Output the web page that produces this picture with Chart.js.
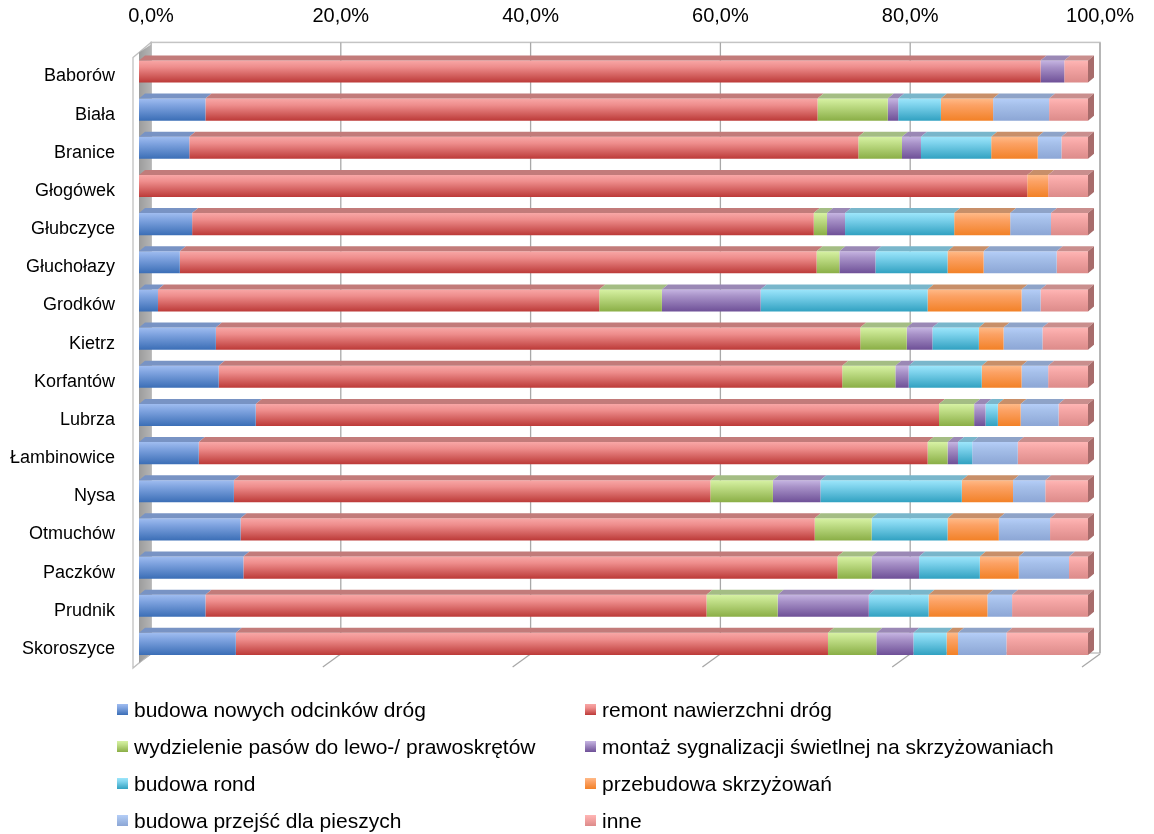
<!DOCTYPE html>
<html lang="pl">
<head>
<meta charset="utf-8">
<title>Rodzaje inwestycji drogowych w gminach</title>
<script src="https://cdn.jsdelivr.net/npm/chart.js@4.4.1/dist/chart.umd.min.js"></script>
<style>
  html, body { margin: 0; padding: 0; background: #ffffff; }
  #wrap { position: relative; width: 1154px; height: 834px; overflow: hidden; }
  #chart { position: absolute; left: 0; top: 0; }
  #legend { position: absolute; left: 0; top: 0; width: 1154px; height: 834px; pointer-events: none;
            font-family: "Liberation Sans", Arial, sans-serif; font-size: 21px; color: #000; }
  .item { position: absolute; height: 26px; line-height: 26px; white-space: nowrap; }
  .box { position: absolute; left: 0; top: 7px; width: 11px; height: 11px; }
  .txt { position: absolute; left: 17px; top: 0; }
</style>
</head>
<body>
<div id="wrap">
  <canvas id="chart" width="1154" height="834"></canvas>
  <div id="legend"></div>
</div>
<script>
// Gminy (categories, top to bottom)
const categories = ['Baborów', 'Biała', 'Branice', 'Głogówek', 'Głubczyce', 'Głuchołazy', 'Grodków', 'Kietrz',
  'Korfantów', 'Lubrza', 'Łambinowice', 'Nysa', 'Otmuchów', 'Paczków', 'Prudnik', 'Skoroszyce'];

// Share of each investment type per gmina (%)
const budowaNowych = [0, 7.0, 5.3, 0, 5.6, 4.3, 2.0, 8.1, 8.4, 12.3, 6.3, 10.0, 10.7, 11.0, 7.0, 10.2];
const remontNawierzchni = [95.0, 64.5, 70.5, 93.6, 65.5, 67.1, 46.5, 67.9, 65.7, 72.0, 76.8, 50.2, 60.5, 62.6, 52.8, 62.4];
const wydzieleniePasow = [0, 7.4, 4.6, 0, 1.4, 2.4, 6.6, 4.9, 5.6, 3.7, 2.1, 6.6, 6.0, 3.6, 7.5, 5.1];
const sygnalizacja = [2.5, 1.1, 2.0, 0, 1.9, 3.8, 10.4, 2.7, 1.4, 1.2, 1.1, 5.0, 0, 5.0, 9.6, 3.9];
const budowaRond = [0, 4.5, 7.4, 0, 11.5, 7.6, 17.6, 4.9, 7.7, 1.3, 1.5, 14.9, 8.0, 6.4, 6.3, 3.5];
const przebudowaSkrzyzowan = [0, 5.5, 4.9, 2.2, 5.9, 3.8, 9.9, 2.6, 4.2, 2.4, 0, 5.4, 5.4, 4.1, 6.2, 1.2];
const przejsciaPiesi = [0, 5.9, 2.5, 0, 4.3, 7.7, 2.0, 4.1, 2.8, 4.0, 4.8, 3.4, 5.4, 5.3, 2.6, 5.1];
const inne = [2.5, 4.1, 2.8, 4.2, 3.9, 3.3, 5.0, 4.8, 4.2, 3.1, 7.4, 4.5, 4.0, 2.0, 8.0, 8.6];

// Axis ticks (%)
const xTicks = [0, 20, 40, 60, 80, 100];

const seriesLabels = ['budowa nowych odcinków dróg', 'remont nawierzchni dróg',
  'wydzielenie pasów do lewo-/ prawoskrętów', 'montaż sygnalizacji świetlnej na skrzyżowaniach',
  'budowa rond', 'przebudowa skrzyżowań', 'budowa przejść dla pieszych', 'inne'];
const seriesData = [budowaNowych, remontNawierzchni, wydzieleniePasow, sygnalizacja,
  budowaRond, przebudowaSkrzyzowan, przejsciaPiesi, inne];

// [top, middle, bottom, top face, side face]
const palette = [
  ['#a0bdf0', '#80a4e0', '#3b6eb6', '#7893c4', '#4d6f9f'],
  ['#f8a7a6', '#ee8d8c', '#bc3a38', '#c27b7a', '#9c5150'],
  ['#d7f2a4', '#c0de87', '#8aae46', '#a4bd84', '#76903f'],
  ['#c6b5e2', '#a892c8', '#6e5097', '#9a88b5', '#5f4a80'],
  ['#9de6fb', '#7dd2ec', '#31a1c1', '#79b6cb', '#2f7f98'],
  ['#ffba88', '#fca265', '#f28127', '#c88f69', '#b66a2e'],
  ['#b5cef8', '#a6c0ea', '#8ca6d5', '#8ea3c8', '#6b80a6'],
  ['#ffb6b5', '#f5a6a5', '#dc8b8a', '#c98e8d', '#a86c6b']
];

// 3D geometry: bar depth and back-wall depth (px)
const BAR_DX = 6, BAR_DY = 5;
const WALL_DX = 12, WALL_DY = 10;
const BAR_FRACTION = 0.58;

function barGradient(ctx, idx) {
  const chart = ctx.chart;
  const ys = chart.scales && chart.scales.y;
  const p = palette[idx];
  if (!ys || ctx.type !== 'data') return p[1];
  const band = (ys.bottom - ys.top) / categories.length;
  const h = band * BAR_FRACTION;
  const yc = ys.getPixelForValue(ctx.dataIndex);
  if (!isFinite(yc) || !isFinite(h) || h <= 0) return p[1];
  const g = chart.ctx.createLinearGradient(0, yc - h / 2, 0, yc + h / 2);
  g.addColorStop(0, p[0]);
  g.addColorStop(0.3, p[1]);
  g.addColorStop(1, p[2]);
  return g;
}

const datasets = seriesData.map((data, i) => ({
  label: seriesLabels[i],
  data: data,
  backgroundColor: (ctx) => barGradient(ctx, i),
  borderWidth: 0,
  categoryPercentage: 1,
  barPercentage: BAR_FRACTION
}));

// Back wall, gridlines and left wall drawn behind the bars
const wallsPlugin = {
  id: 'walls',
  beforeDatasetsDraw(chart) {
    const { ctx, chartArea: a, scales: { x } } = chart;
    ctx.save();
    const bl = a.left + WALL_DX, bt = a.top - WALL_DY, br = a.right + WALL_DX, bb = a.bottom - WALL_DY;
    // back wall frame
    ctx.strokeStyle = '#c4c4c4';
    ctx.lineWidth = 1.5;
    ctx.strokeRect(bl, bt, br - bl, bb - bt);
    // gridlines on the back wall + their floor continuations
    ctx.strokeStyle = '#a8a8a8';
    ctx.lineWidth = 1.3;
    xTicks.forEach(v => {
      const px = x.getPixelForValue(v) + WALL_DX;
      ctx.beginPath();
      ctx.moveTo(px, bt);
      ctx.lineTo(px, bb);
      ctx.stroke();
      ctx.beginPath();
      ctx.moveTo(px, bb + 1);
      ctx.lineTo(px - 18, bb + 14);
      ctx.stroke();
    });
    // left wall
    ctx.beginPath();
    ctx.moveTo(a.left - 6, a.top + 5);
    ctx.lineTo(bl, bt);
    ctx.lineTo(bl, bb);
    ctx.lineTo(a.left - 6, a.bottom + 5);
    ctx.closePath();
    ctx.fillStyle = '#ffffff';
    ctx.fill();
    ctx.strokeStyle = '#c0c0c0';
    ctx.lineWidth = 1.3;
    ctx.stroke();
    const lg = ctx.createLinearGradient(a.left, 0, bl, 0);
    lg.addColorStop(0, '#9c9c9c');
    lg.addColorStop(1, '#b4b4b4');
    ctx.beginPath();
    ctx.moveTo(a.left, a.top);
    ctx.lineTo(bl, bt + 2);
    ctx.lineTo(bl, bb);
    ctx.lineTo(a.left, a.bottom);
    ctx.closePath();
    ctx.fillStyle = lg;
    ctx.fill();
    ctx.restore();
  },
  // top and side faces of the bars
  afterDatasetsDraw(chart) {
    const { ctx } = chart;
    ctx.save();
    const metas = chart.getSortedVisibleDatasetMetas();
    metas.forEach(meta => {
      const i = meta.index;
      meta.data.forEach(el => {
        const x0 = Math.min(el.base, el.x), x1 = Math.max(el.base, el.x);
        if (!(x1 - x0 >= 0.3)) return;
        const top = el.y - el.height / 2, bottom = el.y + el.height / 2;
        ctx.beginPath();
        ctx.moveTo(x0, top);
        ctx.lineTo(x1, top);
        ctx.lineTo(x1 + BAR_DX, top - BAR_DY);
        ctx.lineTo(x0 + BAR_DX, top - BAR_DY);
        ctx.closePath();
        ctx.fillStyle = palette[i][3];
        ctx.fill();
        if (i === seriesData.length - 1) {
          ctx.beginPath();
          ctx.moveTo(x1, top);
          ctx.lineTo(x1 + BAR_DX, top - BAR_DY);
          ctx.lineTo(x1 + BAR_DX, bottom - BAR_DY);
          ctx.lineTo(x1, bottom);
          ctx.closePath();
          ctx.fillStyle = palette[i][4];
          ctx.fill();
        }
      });
    });
    ctx.restore();
  }
};

// Legend: two columns, built from the series labels and palette
const legendEl = document.getElementById('legend');
const colX = [117, 585];
const rowY = [697, 734, 771, 808];
seriesLabels.forEach((label, i) => {
  const item = document.createElement('div');
  item.className = 'item';
  item.style.left = colX[i % 2] + 'px';
  item.style.top = rowY[Math.floor(i / 2)] + 'px';
  const box = document.createElement('div');
  box.className = 'box';
  box.style.background = `linear-gradient(to bottom, ${palette[i][0]}, ${palette[i][1]} 35%, ${palette[i][2]})`;
  const txt = document.createElement('div');
  txt.className = 'txt';
  txt.textContent = label;
  item.appendChild(box);
  item.appendChild(txt);
  legendEl.appendChild(item);
});

const chart = new Chart(document.getElementById('chart'), {
  type: 'bar',
  data: { labels: categories, datasets },
  options: {
    indexAxis: 'y',
    responsive: false,
    devicePixelRatio: 1,
    animation: false,
    layout: { padding: { left: 0, right: 66, top: 0, bottom: 171 } },
    plugins: { legend: { display: false }, tooltip: { enabled: false } },
    scales: {
      x: {
        position: 'top',
        stacked: true,
        min: 0,
        max: 100,
        afterBuildTicks(scale) { scale.ticks = xTicks.map(v => ({ value: v })); },
        afterFit(scale) { scale.height = 52.4; },
        grid: { display: false, drawTicks: false },
        border: { display: false },
        ticks: {
          padding: 24,
          labelOffset: WALL_DX,
          maxRotation: 0,
          color: '#000',
          font: { family: '"Liberation Sans", Arial, sans-serif', size: 20 },
          callback: (v) => Number(v).toFixed(1).replace('.', ',') + '%'
        }
      },
      y: {
        stacked: true,
        afterFit(scale) { scale.width = 139; },
        grid: { display: false, drawTicks: false },
        border: { display: false },
        ticks: {
          padding: 24,
          labelOffset: 5,
          color: '#000',
          font: { family: '"Liberation Sans", Arial, sans-serif', size: 18 }
        }
      }
    }
  },
  plugins: [wallsPlugin]
});
</script>
</body>
</html>
